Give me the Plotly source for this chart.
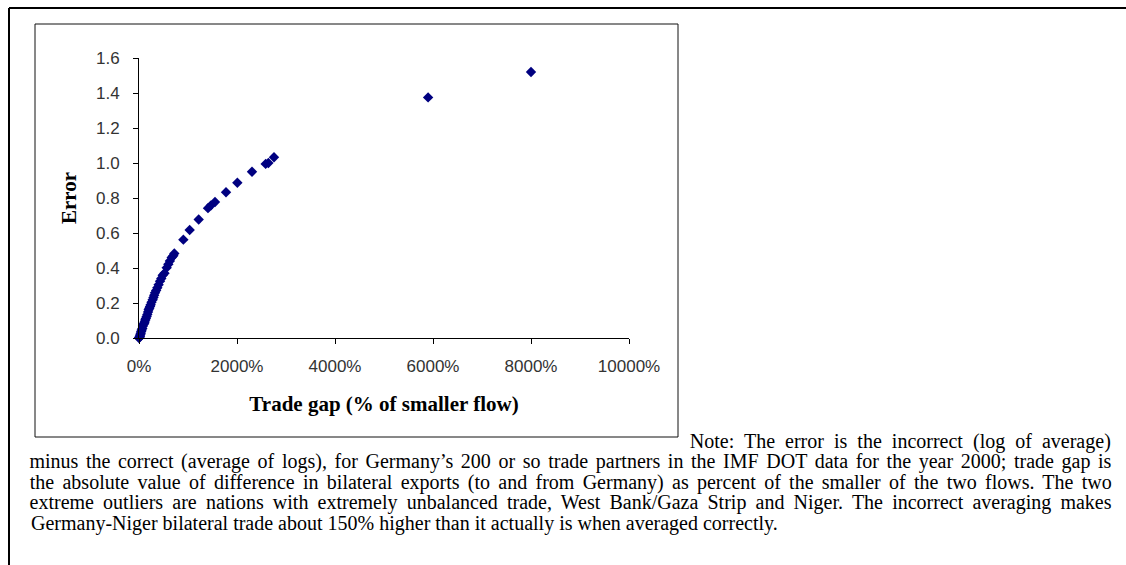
import json
import plotly.graph_objects as go

# trade gap (% of smaller flow) and error
trade_gap = [0, 5, 10, 15, 20, 28, 35, 45, 55, 68, 80, 95, 105, 116, 128, 140, 156,
             170, 185, 197, 210, 225, 238, 255, 279, 295, 310, 327, 350, 374, 400,
             429, 455, 483, 520, 565, 599, 630, 667, 700, 721, 905, 1034, 1218,
             1408, 1469, 1551, 1776, 2007, 2306, 2585, 2640, 2755, 5900, 8000]
error = [0.0, 0.002, 0.005, 0.008, 0.012, 0.02, 0.027, 0.037, 0.046, 0.055, 0.068,
         0.078, 0.085, 0.092, 0.103, 0.112, 0.123, 0.135, 0.148, 0.162, 0.17, 0.18,
         0.19, 0.205, 0.219, 0.232, 0.245, 0.258, 0.272, 0.287, 0.305, 0.325, 0.34,
         0.358, 0.37, 0.402, 0.421, 0.44, 0.46, 0.47, 0.483, 0.562, 0.617, 0.677,
         0.742, 0.758, 0.777, 0.833, 0.887, 0.95, 0.995, 1.0, 1.033, 1.375, 1.52]

x_ticks = [0, 2000, 4000, 6000, 8000, 10000]
x_tick_labels = ["0%", "2000%", "4000%", "6000%", "8000%", "10000%"]
y_ticks = [0.0, 0.2, 0.4, 0.6, 0.8, 1.0, 1.2, 1.4, 1.6]

note_first = "Note: The error is the incorrect (log of average)"
note_lines = [
    "minus the correct (average of logs), for Germany\u2019s 200 or so trade partners in the IMF DOT data for the year 2000; trade gap is",
    "the absolute value of difference in bilateral exports (to and from Germany) as percent of the smaller of the two flows. The two",
    "extreme outliers are nations with extremely unbalanced trade, West Bank/Gaza Strip and Niger. The incorrect averaging makes",
    "Germany-Niger bilateral trade about 150% higher than it actually is when averaged correctly.",
]

W, H = 1126, 565
L, R, T, B = 139, 629, 58, 338  # plot area in pixels


def px(x):
    return (x - L) / (R - L)


def py(y):
    return (B - y) / (B - T)


fig = go.Figure()
fig.add_trace(go.Scatter(
    x=trade_gap, y=error, mode="markers",
    marker=dict(symbol="diamond", size=8, color="#000080"),
    cliponaxis=False, showlegend=False,
))

axis_font = dict(family="Liberation Sans, Arial, sans-serif", size=17, color="#333")
title_font = dict(family="Liberation Serif, Times New Roman, serif", size=21, color="black")

fig.update_xaxes(
    range=[0, 10000], tickvals=x_ticks, ticktext=x_tick_labels,
    showgrid=False, zeroline=False, showline=True, linecolor="black", linewidth=1,
    ticks="outside", ticklen=5, tickcolor="black", tickfont=axis_font, ticklabelstandoff=8,
    title=dict(text="<b>Trade gap (% of smaller flow)</b>", font=title_font, standoff=20),
)
fig.update_yaxes(
    range=[0, 1.6], tickvals=y_ticks, tickformat=".1f",
    showgrid=False, zeroline=False, showline=True, linecolor="black", linewidth=1,
    ticks="outside", ticklen=5, tickcolor="black", tickfont=axis_font, ticklabelstandoff=10,
    title=dict(text="<b>Error</b>", font=title_font, standoff=13),
)

shapes = [
    # outer frame (top and left edges visible)
    dict(type="line", xref="paper", yref="paper", x0=px(9), x1=px(1130), y0=py(8), y1=py(8),
         line=dict(color="black", width=2)),
    dict(type="line", xref="paper", yref="paper", x0=px(9), x1=px(9), y0=py(8), y1=py(570),
         line=dict(color="black", width=2)),
    # chart box
    dict(type="rect", xref="paper", yref="paper", x0=px(35), x1=px(678), y0=py(24), y1=py(437),
         line=dict(color="#111", width=1)),
]

note_font = dict(family="Liberation Serif, Times New Roman, serif", size=20, color="black")
# first line sits right of the chart box, justified lines span 29..1111 px
annotations = [dict(text=note_first, xref="paper", yref="paper", x=px((690 + 1111) / 2), y=py(441),
                    xanchor="center", yanchor="middle", showarrow=False, font=note_font)]
widths = [421]
for i, line in enumerate(note_lines):
    last = i == len(note_lines) - 1
    annotations.append(dict(
        text=line, xref="paper", yref="paper",
        x=px(29) if last else px((29 + 1111) / 2), y=py(461.5 + 20.5 * i),
        xanchor="left" if last else "center", yanchor="middle",
        showarrow=False, font=note_font,
    ))
    widths.append(0 if last else 1082)

fig.update_layout(
    width=W, height=H,
    margin=dict(l=L, r=W - R, t=T, b=H - B),
    paper_bgcolor="white", plot_bgcolor="white",
    shapes=shapes, annotations=annotations,
)

# page margin off, and stretch word spacing so the note reads justified
post = """
document.body.style.margin = '0';
(function(){
  var targets = %s;
  function justify(){
    var texts = document.querySelectorAll('.annotation-text');
    for (var i = 0; i < texts.length && i < targets.length; i++) {
      var t = texts[i], w = targets[i];
      if (!w) continue;
      t.style.wordSpacing = '0px';
      t.removeAttribute('textLength');
      var n = (t.textContent.match(/ /g) || []).length;
      var len = t.getComputedTextLength();
      if (n > 0 && len < w) {
        t.style.wordSpacing = ((w - len) / n) + 'px';
        if (t.getComputedTextLength() < w - 3) {
          t.style.wordSpacing = '0px';
          t.setAttribute('textLength', w);
          t.setAttribute('lengthAdjust', 'spacing');
        }
      }
    }
  }
  justify();
  setTimeout(justify, 50);
  setTimeout(justify, 300);
})();
""" % json.dumps(widths)

fig.write_html("out.html", post_script=post, config={"displayModeBar": False})
